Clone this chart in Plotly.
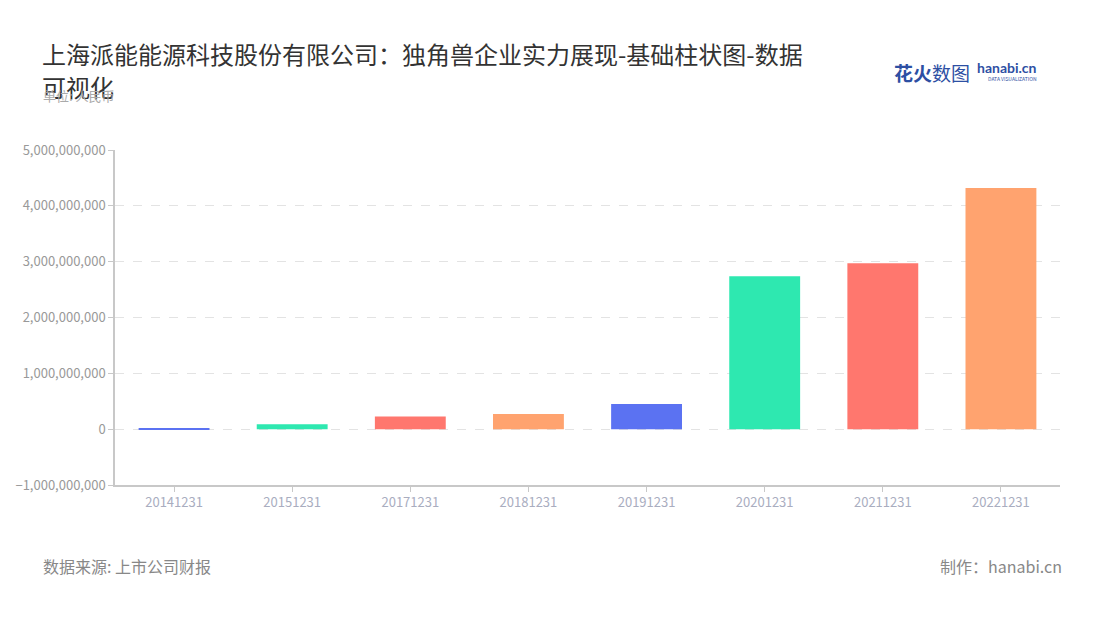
import plotly.graph_objects as go

categories = ["20141231", "20151231", "20171231", "20181231", "20191231", "20201231", "20211231", "20221231"]
values = [5000000, 90000000, 225000000, 270000000, 450000000, 2740000000, 2970000000, 4320000000]
palette = ["#5b72f2", "#2ee8b0", "#ff776e", "#ffa36f"]
colors = [palette[i % 4] for i in range(len(categories))]
y_ticks = [-1000000000, 0, 1000000000, 2000000000, 3000000000, 4000000000, 5000000000]

FONT = "Noto Sans CJK SC"

# plot area in screen px: x 115..1060, y 150..485 (page body adds 8px offset)
PL, PR, PT, PB = 115, 1060, 150, 485


def px(x):
    return (x - PL) / (PR - PL)


def py(y):
    return 1 + (PT - y) / (PB - PT)


fig = go.Figure(go.Bar(
    x=categories, y=values, marker=dict(color=colors, line=dict(width=0)),
    width=0.6, hoverinfo="x+y",
))

fig.update_layout(
    width=1100, height=620,
    paper_bgcolor="white", plot_bgcolor="white",
    margin=dict(l=PL - 8, r=1100 - PR + 8, t=PT - 8, b=620 - PB + 8),
    font=dict(family=FONT, color="#999999", size=13),
    showlegend=False,
    xaxis=dict(
        type="category", showline=True, linecolor="#c8c8c8", linewidth=1.5,
        ticks="outside", ticklen=5, tickcolor="#c8c8c8",
        tickfont=dict(color="#a9adbf", size=13, family=FONT),
        showgrid=False, zeroline=False, automargin=False,
    ),
    yaxis=dict(
        range=[-1000000000, 5000000000], tickvals=y_ticks,
        tickformat=",d", showline=True, linecolor="#c8c8c8", linewidth=1.5,
        ticks="outside", ticklen=5, tickcolor="#c8c8c8",
        tickfont=dict(color="#999999", size=13, family=FONT),
        showgrid=True, gridcolor="#e3e3e3", griddash="dash", gridwidth=1,
        zeroline=False, automargin=False,
    ),
    annotations=[
        dict(text="上海派能能源科技股份有限公司：独角兽企业实力展现-基础柱状图-数据",
             xref="paper", yref="paper", x=px(40), y=py(54), xanchor="left", yanchor="middle",
             showarrow=False, align="left",
             font=dict(family=FONT, size=24, color="#333333")),
        dict(text="可视化",
             xref="paper", yref="paper", x=px(40), y=py(86), xanchor="left", yanchor="middle",
             showarrow=False, align="left",
             font=dict(family=FONT, size=24, color="#333333")),
        dict(text="单位: 人民币", xref="paper", yref="paper", x=px(41), y=py(95),
             xanchor="left", yanchor="middle", showarrow=False,
             font=dict(family=FONT, size=13, color="#aaaaaa")),
        dict(text="<b>花火</b>数图", xref="paper", yref="paper", x=px(972), y=py(72),
             xanchor="right", yanchor="middle", showarrow=False,
             font=dict(family=FONT, size=19, color="#2d4fa3")),
        dict(text="<b>hanabi.cn</b>", xref="paper", yref="paper", x=px(1039), y=py(68),
             xanchor="right", yanchor="middle", showarrow=False,
             font=dict(family="Lato", size=14, color="#2d4fa3")),
        dict(text="DATA VISUALIZATION", xref="paper", yref="paper", x=px(1039), y=py(79),
             xanchor="right", yanchor="middle", showarrow=False,
             font=dict(family=FONT, size=5, color="#2d4fa3")),
        dict(text="数据来源: 上市公司财报", xref="paper", yref="paper", x=px(41), y=py(566),
             xanchor="left", yanchor="middle", showarrow=False,
             font=dict(family=FONT, size=16, color="#888888")),
        dict(text="制作：hanabi.cn", xref="paper", yref="paper", x=px(1064), y=py(566),
             xanchor="right", yanchor="middle", showarrow=False,
             font=dict(family=FONT, size=16, color="#888888")),
    ],
)

fig.write_html("out.html")
